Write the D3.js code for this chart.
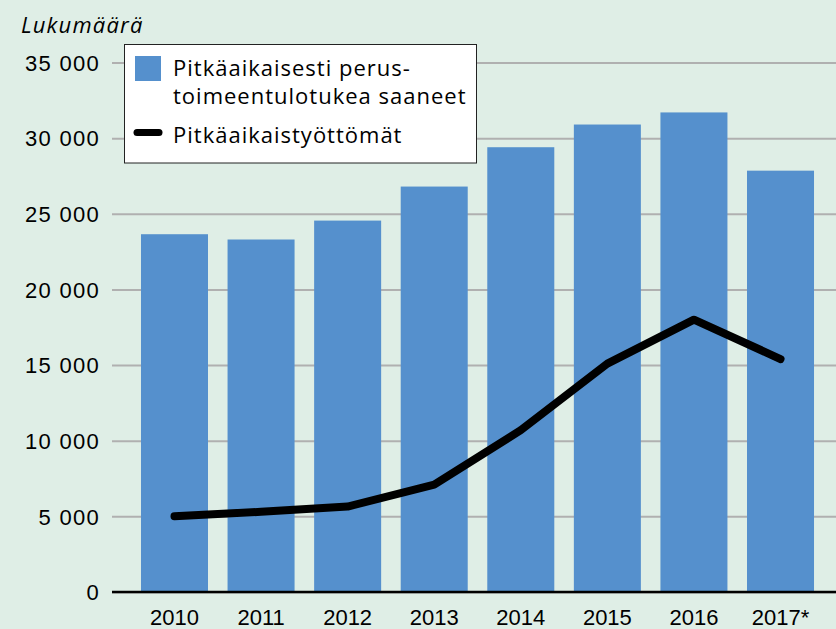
<!DOCTYPE html>
<html>
<head>
<meta charset="utf-8">
<script src="https://cdn.jsdelivr.net/npm/d3@7"></script>
<style>
  body { margin: 0; background: #dfeee6; }
  svg { display: block; font-family: "Open Sans", "Liberation Sans", sans-serif; }
</style>
</head>
<body>
<svg id="chart" width="836" height="629"></svg>
<script>
const years = ['2010', '2011', '2012', '2013', '2014', '2015', '2016', '2017*'];
const toimeentulotuki = [23650, 23300, 24550, 26800, 29400, 30900, 31700, 27850];
const tyottomat = [5000, 5300, 5650, 7100, 10700, 15100, 18000, 15400];
const yTicks = [0, 5000, 10000, 15000, 20000, 25000, 30000, 35000];
const seriesNames = ['Pitkäaikaisesti perus-', 'toimeentulotukea saaneet', 'Pitkäaikaistyöttömät'];

const svg = d3.select('#chart');
const width = 836;
const height = 629;
const margin = { top: 62.5, right: 0, bottom: 37, left: 112 };

svg.append('rect').attr('width', width).attr('height', height).attr('fill', '#dfeee6');

const fiLocale = d3.formatLocale({ decimal: ',', thousands: '\u00a0', grouping: [3], currency: ['', ' €'] });
const fmt = fiLocale.format(',d');

const x = d3.scaleBand()
    .domain(years)
    .range([131.2, 823.8])
    .paddingInner(0.226)
    .paddingOuter(0.113);

const y = d3.scaleLinear()
    .domain([0, 35000])
    .range([height - margin.bottom, margin.top]);

// y axis + gridlines
const yAxis = svg.append('g')
    .attr('transform', `translate(${margin.left},0)`)
    .call(d3.axisLeft(y).tickValues(yTicks).tickFormat(fmt)
        .tickSizeInner(-(width - margin.left)).tickSizeOuter(0).tickPadding(12));
yAxis.select('.domain').remove();
yAxis.selectAll('line').attr('stroke', '#b0b0b0').attr('stroke-width', 2);
yAxis.selectAll('text')
    .style('font-size', '22px')
    .style('letter-spacing', '1.3px')
    .attr('fill', '#000')
    .attr('dy', '0.35em');

// bars
svg.append('g')
    .selectAll('rect')
    .data(years)
    .join('rect')
    .attr('x', d => x(d))
    .attr('y', (d, i) => y(toimeentulotuki[i]))
    .attr('width', x.bandwidth())
    .attr('height', (d, i) => y(0) - y(toimeentulotuki[i]))
    .attr('fill', '#5590cd');

// x axis
const xAxis = svg.append('g')
    .attr('transform', `translate(0,${y(0)})`)
    .call(d3.axisBottom(x).tickSize(0).tickPadding(0));
xAxis.select('.domain').remove();
xAxis.selectAll('text')
    .attr('y', 33)
    .attr('dy', null)
    .style('font-size', '22px')
    .attr('fill', '#000');
svg.append('line')
    .attr('x1', margin.left).attr('x2', width)
    .attr('y1', y(0)).attr('y2', y(0))
    .attr('stroke', '#000').attr('stroke-width', 2.5);

// line
const line = d3.line()
    .x((d, i) => x(years[i]) + x.bandwidth() / 2)
    .y(d => y(d));
svg.append('path')
    .datum(tyottomat)
    .attr('d', line)
    .attr('fill', 'none')
    .attr('stroke', '#000')
    .attr('stroke-width', 8)
    .attr('stroke-linecap', 'round')
    .attr('stroke-linejoin', 'round');

// y title
svg.append('text')
    .attr('x', 21)
    .attr('y', 33)
    .style('font-size', '22px')
    .style('font-style', 'italic')
    .style('letter-spacing', '1.2px')
    .attr('fill', '#000')
    .text('Lukumäärä');

// legend
const legend = svg.append('g');
legend.append('rect')
    .attr('x', 124.5).attr('y', 44.5)
    .attr('width', 352).attr('height', 118.5)
    .attr('fill', '#fff').attr('stroke', '#222').attr('stroke-width', 1);
legend.append('rect')
    .attr('x', 135).attr('y', 56)
    .attr('width', 26).attr('height', 25)
    .attr('fill', '#5590cd');
legend.append('line')
    .attr('x1', 137).attr('x2', 159)
    .attr('y1', 132.5).attr('y2', 132.5)
    .attr('stroke', '#000').attr('stroke-width', 7).attr('stroke-linecap', 'round');
legend.selectAll('text.lbl')
    .data(seriesNames)
    .join('text')
    .attr('class', 'lbl')
    .attr('x', 173)
    .attr('y', (d, i) => [76, 104, 143][i])
    .style('font-size', '22px')
    .style('letter-spacing', '1px')
    .attr('fill', '#000')
    .text(d => d);
</script>
</body>
</html>
